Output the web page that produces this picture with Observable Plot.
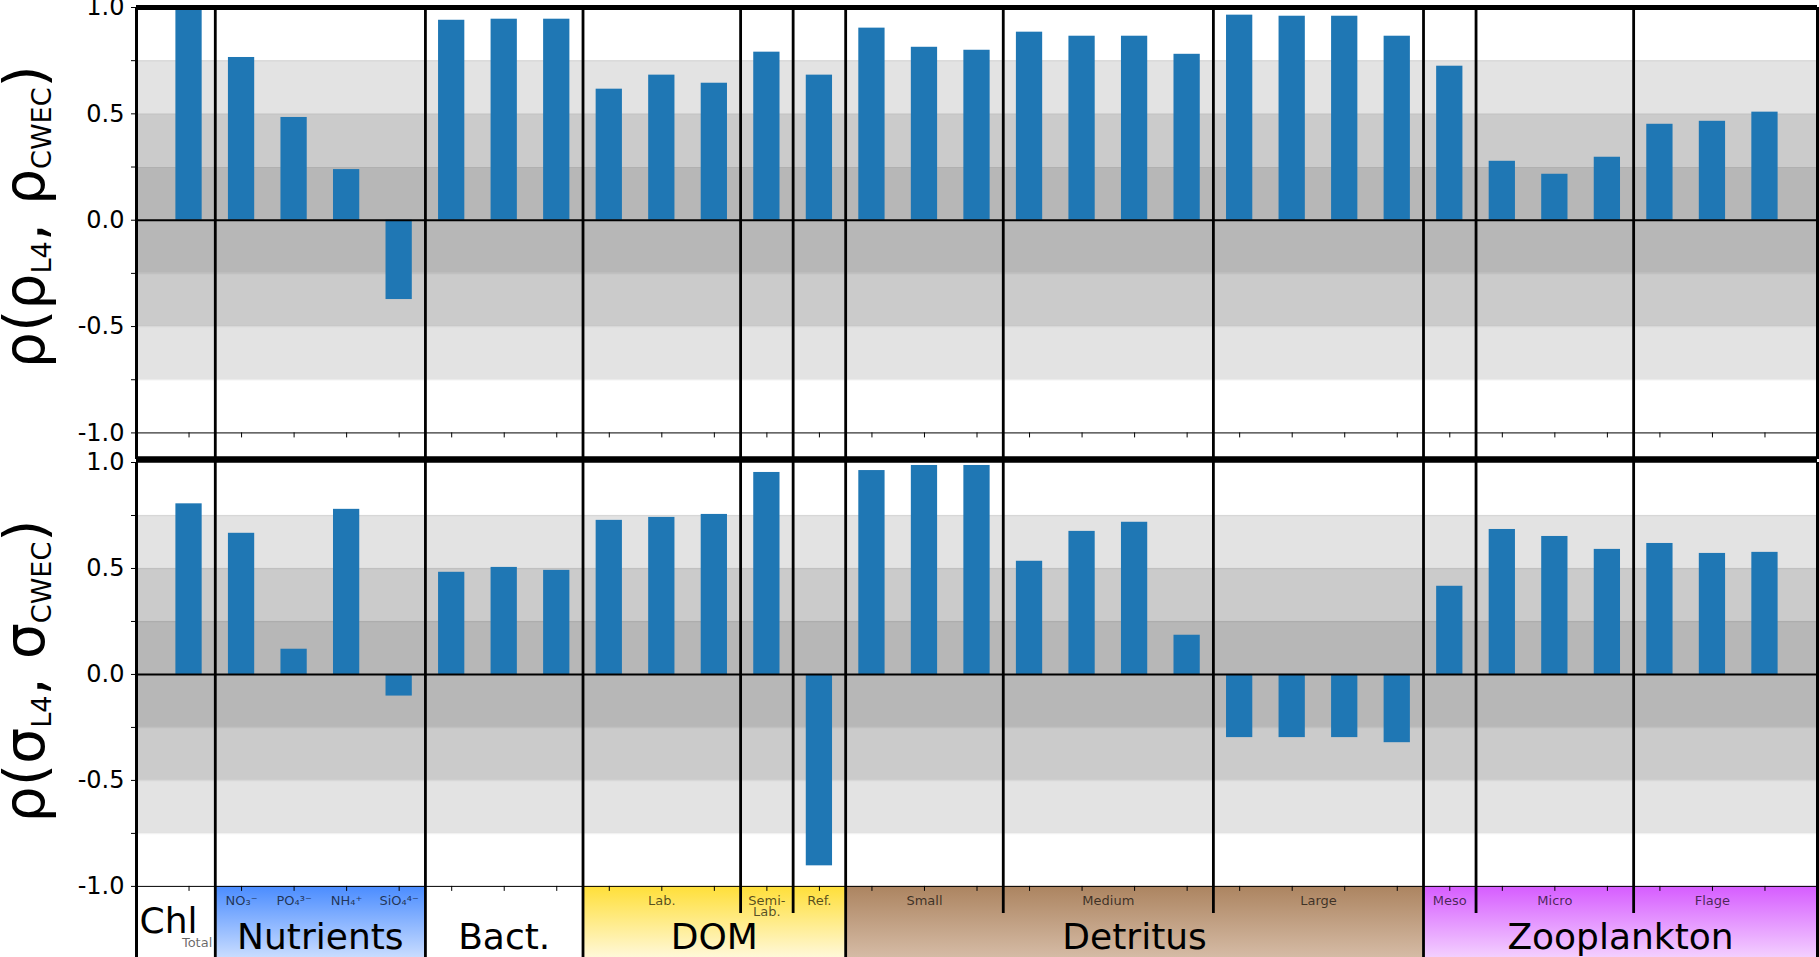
<!DOCTYPE html>
<html><head><meta charset="utf-8">
<script src="https://cdn.jsdelivr.net/npm/d3@7"></script>
<script src="https://cdn.jsdelivr.net/npm/@observablehq/plot@0.6"></script>
<style>
html,body{margin:0;padding:0;background:#fff;overflow:hidden}
#chart{width:1819px;line-height:0}
#chart svg{display:block}
</style></head><body><div id="chart"></div>
<script>
// ---------- data ----------
const groupNames = ["Chl", "Nutrients", "Bact.", "DOM", "Detritus", "Zooplankton"];
const groupSizes = [1, 4, 3, 5, 11, 7];
const subLabels = ["Total", "NO₃⁻", "PO₄³⁻", "NH₄⁺", "SiO₄⁴⁻", "", "Lab.", "Semi-\nLab.", "Ref.", "Small", "Medium", "Large", "Meso", "Micro", "Flage"];
const subSizes  = [1, 1, 1, 1, 1, 3, 3, 1, 1, 3, 4, 4, 1, 3, 3];
const subGroups = [0, 1, 1, 1, 1, 2, 3, 3, 3, 4, 4, 4, 5, 5, 5];
const dividedGroups = ["DOM", "Detritus", "Zooplankton"];
// correlation of means (top) and of standard deviations (bottom)
const rhoMean = [0.995, 0.765, 0.483, 0.238, -0.373, 0.940, 0.945, 0.945, 0.616, 0.682, 0.644, 0.790, 0.682,
  0.903, 0.813, 0.799, 0.884, 0.865, 0.865, 0.780, 0.964, 0.959, 0.959, 0.865, 0.724, 0.277, 0.216, 0.296, 0.451, 0.465, 0.508];
const rhoStd = [0.805, 0.666, 0.119, 0.779, -0.102, 0.482, 0.505, 0.491, 0.727, 0.741, 0.755, 0.953, -0.903,
  0.962, 0.986, 0.986, 0.534, 0.675, 0.718, 0.185, -0.298, -0.298, -0.298, -0.322, 0.416, 0.684, 0.651, 0.590, 0.618, 0.571, 0.576];
const yTicks = [-1, -0.75, -0.5, -0.25, 0, 0.25, 0.5, 0.75, 1];
const yTickLabels = ["-1.0", "", "-0.5", "", "0.0", "", "0.5", "", "1.0"];
const bandEdges = [0.25, 0.5, 0.75];
const topLabel = [["ρ(ρ", 0], ["L4", 1], [", ρ", 0], ["CWEC", 1], [")", 0]];
const bottomLabel = [["ρ(σ", 0], ["L4", 1], [", σ", 0], ["CWEC", 1], [")", 0]];

// ---------- styles ----------
const FONT = "DejaVu Sans";
const shades = ["#b7b7b7", "#cbcbcb", "#e3e3e3"];
const stripFill = {
  "Nutrients": ["#4a8cff", "#c8dcff"],
  "DOM": ["#ffdf38", "#fff8d8"],
  "Detritus": ["#ac8460", "#d5bba5"],
  "Zooplankton": ["#d65cff", "#f3cfff"]
};
const barColor = "#1f77b4";

// ---------- derived structure ----------
const N = rhoMean.length;
let c = 0;
const groups = groupNames.map((name, k) => { const start = c; c += groupSizes[k]; return {name, k, start, end: c - 1}; });
groups.forEach((g, k) => {
  g.left = k === 0 ? -1 : g.start - 0.5;
  g.right = k === groups.length - 1 ? N : g.end + 0.5;
  g.center = (g.left + g.right) / 2;
});
c = 0;
const subs = subLabels.map((label, k) => { const start = c; c += subSizes[k]; return {label, k, group: subGroups[k], start, end: c - 1, center: (start + c - 1) / 2}; });
const groupDividers = groups.slice(1).map(g => g.left);
const subDividers = subs.filter((s, k) => k > 0 && s.group === subs[k - 1].group && dividedGroups.includes(groupNames[s.group])).map(s => s.start - 0.5);
const bands = [];
bandEdges.forEach((e, k) => {
  if (k === 0) bands.push({y1: -e, y2: e, level: 0});
  else { const lo = bandEdges[k - 1]; bands.push({y1: lo, y2: e, level: k}); bands.push({y1: -e, y2: -lo, level: k}); }
});
const bandLines = bandEdges.flatMap(e => [e, -e]);

function panel({values, label, height, marginTop, yMin, strip, topRule}) {
  const bars = values.map((v, i) => ({i, v}));
  const marks = [
    Plot.rect(bands, {x1: -1, x2: N, y1: "y1", y2: "y2", fill: d => shades[d.level]}),
    Plot.ruleY(bandLines, {stroke: "#000", strokeOpacity: 0.05, strokeWidth: 1.5})
  ];
  if (strip) marks.push(Plot.rect(groups, {x1: "left", x2: "right", y1: -1, y2: yMin,
    fill: d => stripFill[d.name] ? `url(#strip-grad-${d.k})` : "white"}));
  marks.push(
    Plot.rect(bars, {x1: d => d.i - 0.25, x2: d => d.i + 0.25, y1: 0, y2: "v", fill: barColor}),
    Plot.ruleY([0], {stroke: "black", strokeWidth: 2}),
    Plot.ruleY([-1], {stroke: "black", strokeWidth: 1}),
    Plot.ruleX(bars, {x: "i", y1: -1, y2: -1, insetBottom: -5, stroke: "black", strokeWidth: 1})
  );
  if (strip) {
    marks.push(
      Plot.ruleX(groupDividers, {stroke: "black", strokeWidth: 2.8}),
      Plot.ruleX(subDividers, {y1: 1, y2: -1, insetTop: -marginTop, insetBottom: -27, stroke: "black", strokeWidth: 2.8})
    );
  } else {
    marks.push(Plot.ruleX([...groupDividers, ...subDividers], {stroke: "black", strokeWidth: 2.8}));
  }
  marks.push(Plot.ruleX([-1, N], {stroke: "black", strokeWidth: 3}));
  if (topRule === "top") {
    marks.push(Plot.ruleY([1], {stroke: "black", strokeWidth: 5}));
    marks.push(Plot.ruleY([yMin], {stroke: "black", strokeWidth: 6}));
  } else {
    marks.push(Plot.ruleY([1], {stroke: "black", strokeWidth: 6, dy: -marginTop}));
  }
  if (strip) {
    const subText = subs.filter(s => s.label && s.k > 0);
    marks.push(
      Plot.text(subText, {x: "center", y: -1, text: "label", fontSize: 13, fill: "black", fillOpacity: 0.68,
        lineAnchor: "top", lineHeight: 0.85, dy: 11}),
      Plot.text(groups.filter(g => g.k > 0), {x: "center", y: -1, text: "name", fontSize: 36, fill: "black",
        lineAnchor: "bottom", dy: 63}),
      Plot.text(groups.filter(g => g.k === 0), {x: "left", y: -1, text: "name", fontSize: 36, fill: "black",
        textAnchor: "start", lineAnchor: "bottom", dx: 3, dy: 47}),
      Plot.text(subs.filter(s => s.k === 0), {x: d => groups[0].right, y: -1, text: "label", fontSize: 13, fill: "black",
        fillOpacity: 0.6, textAnchor: "end", lineAnchor: "bottom", dx: -3, dy: 61})
    );
  }
  const svg = Plot.plot({
    width: 1819, height,
    marginLeft: 136, marginRight: 2, marginTop, marginBottom: 0,
    style: {fontFamily: FONT, fontSize: "24px", color: "black", background: "transparent", overflow: "visible"},
    x: {domain: [-1, N], axis: null},
    y: {domain: [yMin, 1], ticks: yTicks, tickFormat: d => yTickLabels[yTicks.indexOf(d)], tickSize: 5, tickPadding: 7, label: null},
    color: {type: "identity"},
    marks
  });
  const s = d3.select(svg);
  if (strip) {
    const defs = s.insert("defs", ":first-child");
    groups.forEach(g => {
      if (!stripFill[g.name]) return;
      const lg = defs.append("linearGradient").attr("id", `strip-grad-${g.k}`).attr("x1", 0).attr("y1", 0).attr("x2", 0).attr("y2", 1);
      lg.append("stop").attr("offset", 0).attr("stop-color", stripFill[g.name][0]);
      lg.append("stop").attr("offset", 1).attr("stop-color", stripFill[g.name][1]);
    });
  }
  const ys = svg.scale("y");
  const ly = (ys.apply(1) + ys.apply(-1)) / 2 - 3;
  const t = s.append("text")
    .attr("transform", `translate(44,${ly}) rotate(-90)`)
    .attr("text-anchor", "middle").attr("fill", "black")
    .attr("font-family", FONT).attr("font-size", 57);
  let down = false;
  label.forEach(([txt, sub]) => {
    const ts = t.append("tspan").text(txt);
    if (sub && !down) { ts.attr("font-size", 27).attr("dy", 7); down = true; }
    else if (!sub && down) { ts.attr("dy", -7); down = false; }
    else if (sub) ts.attr("font-size", 27);
  });
  return svg;
}

const chart = document.getElementById("chart");
chart.appendChild(panel({values: rhoMean, label: topLabel, height: 459, marginTop: 7, yMin: -1.125, strip: false, topRule: "top"}));
chart.appendChild(panel({values: rhoStd, label: bottomLabel, height: 498, marginTop: 3, yMin: -1.3355, strip: true, topRule: "mid"}));
</script></body></html>
